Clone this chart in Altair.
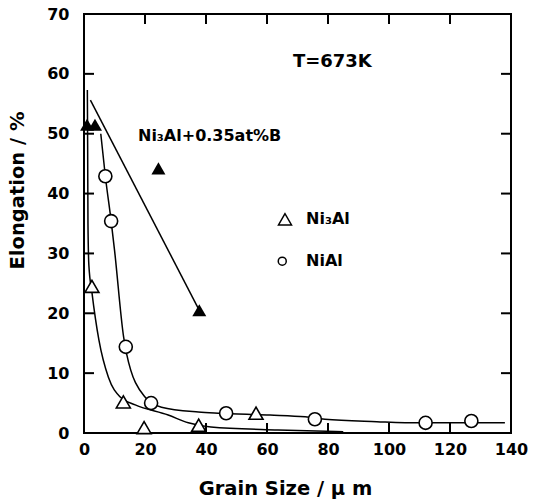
import altair as alt
import pandas as pd

# Ni3Al + 0.35 at% B (filled triangles) and its straight fit
b_grain = [1.0, 3.6, 24.4, 37.8]
b_elong = [51.5, 51.5, 44.2, 20.5]
b_fit_grain = [2.1, 37.8]
b_fit_elong = [55.6, 20.5]

# Ni3Al (open triangles) and its trend curve
ni3al_grain = [2.6, 12.9, 19.7, 37.6, 56.4]
ni3al_elong = [24.5, 5.2, 0.9, 1.3, 3.3]
ni3al_fit_grain = [1.1, 1.2, 1.3, 1.6, 2.6, 4.9, 8.0, 11.9, 16.8, 27.6, 34.2, 41.6, 63.6, 85.0]
ni3al_fit_elong = [57.3, 48.0, 35.0, 28.0, 23.5, 15.5, 9.3, 6.0, 4.7, 3.0, 1.7, 1.0, 0.5, 0.2]

# NiAl (open circles) and its trend curve
nial_grain = [7.0, 8.9, 13.7, 22.0, 46.6, 75.7, 112.0, 127.0]
nial_elong = [42.9, 35.4, 14.4, 5.0, 3.3, 2.3, 1.7, 2.0]
nial_fit_grain = [5.5, 7.0, 8.9, 10.0, 13.0, 13.9, 20.0, 25.4, 37.5, 44.0, 61.0, 72.5, 79.0, 96.0, 110.0, 124.0, 138.0]
nial_fit_elong = [50.0, 42.9, 35.4, 30.6, 16.0, 13.4, 6.0, 4.3, 3.5, 3.3, 3.0, 2.7, 2.3, 1.9, 1.7, 1.7, 1.7]

# axis ticks
x_ticks = [0, 20, 40, 60, 80, 100, 120, 140]
y_ticks = [0, 10, 20, 30, 40, 50, 60, 70]

# annotations (positions in data units)
notes = ["T=673K", "Ni₃Al+0.35at%B", "Ni₃Al", "NiAl"]
note_x = [68.5, 17.7, 72.8, 72.8]
note_y = [62.0, 49.6, 35.7, 28.7]
note_size = [18, 16, 16, 16]

key_shape = ["triangle-up", "circle"]
key_x = [65.9, 65.0]
key_y = [35.7, 28.7]
key_size = [169, 64]

W, H = 427, 419
FONT = "DejaVu Sans"
X_MAX, Y_MAX = 140.0, 70.0
# inward tick length (about 10 px) in data units
TICK_X = 10 * X_MAX / W
TICK_Y = 10 * Y_MAX / H

X = alt.X(
    "grain:Q",
    scale=alt.Scale(domain=[0, X_MAX], nice=False, zero=False),
    axis=alt.Axis(
        values=x_ticks, format="d", title="Grain Size / μ m",
        labelFont=FONT, labelFontSize=16, labelFontWeight="bold", labelColor="black",
        labelPadding=8, labelFlush=False, ticks=False, tickSize=0, domain=False, grid=False,
        titleFont=FONT, titleFontSize=19.5, titleFontWeight="bold", titleColor="black",
        titleX=201, titleY=55, titleBaseline="middle", titleAlign="center",
    ),
)
Y = alt.Y(
    "elong:Q",
    scale=alt.Scale(domain=[0, Y_MAX], nice=False, zero=False),
    axis=alt.Axis(
        values=y_ticks, format="d", title="Elongation / %",
        labelFont=FONT, labelFontSize=16, labelFontWeight="bold", labelColor="black",
        labelPadding=15, labelFlush=False, ticks=False, tickSize=0, domain=False, grid=False,
        titleFont=FONT, titleFontSize=19.5, titleFontWeight="bold", titleColor="black",
        titleX=-67, titleY=176, titleAngle=270, titleBaseline="middle", titleAlign="center",
    ),
)


def frame(xs, ys, **extra):
    d = {"grain": xs, "elong": ys}
    d.update(extra)
    return pd.DataFrame(d)


line_style = dict(color="black", strokeWidth=1.5)

b_fit = alt.Chart(frame(b_fit_grain, b_fit_elong)).mark_line(**line_style).encode(x=X, y=Y)
ni3al_fit = alt.Chart(frame(ni3al_fit_grain, ni3al_fit_elong)).mark_line(
    interpolate="monotone", **line_style).encode(x=X, y=Y)
nial_fit = alt.Chart(frame(nial_fit_grain, nial_fit_elong)).mark_line(
    interpolate="monotone", **line_style).encode(x=X, y=Y)

b_pts = alt.Chart(frame(b_grain, b_elong)).mark_point(
    shape="triangle-up", size=196, filled=True, color="black", opacity=1
).encode(x=X, y=Y)
ni3al_pts = alt.Chart(frame(ni3al_grain, ni3al_elong)).mark_point(
    shape="triangle-up", size=196, filled=False, fill="white", fillOpacity=1,
    stroke="black", strokeWidth=1.6, opacity=1
).encode(x=X, y=Y)
nial_pts = alt.Chart(frame(nial_grain, nial_elong)).mark_point(
    shape="circle", size=170, filled=False, fill="white", fillOpacity=1,
    stroke="black", strokeWidth=1.6, opacity=1
).encode(x=X, y=Y)

key_pts = alt.Chart(frame(key_x, key_y, shape=key_shape, sz=key_size)).mark_point(
    filled=False, fill="white", fillOpacity=1, stroke="black", strokeWidth=1.5, opacity=1
).encode(
    x=X, y=Y,
    shape=alt.Shape("shape:N", scale=None),
    size=alt.Size("sz:Q", scale=None),
)

labels = alt.Chart(frame(note_x, note_y, label=notes, fs=note_size)).mark_text(
    font=FONT, fontWeight="bold", align="left", baseline="middle", color="black"
).encode(
    x=X, y=Y, text="label:N",
    size=alt.Size("fs:Q", scale=None),
)


# inward tick marks on all four sides, each one a two-point segment
def tick_segments(values, side):
    xs, ys, ids = [], [], []
    for v in values:
        v = float(v)
        if side == "bottom":
            seg = [(v, 0.0), (v, TICK_Y)]
        elif side == "top":
            seg = [(v, Y_MAX), (v, Y_MAX - TICK_Y)]
        elif side == "left":
            seg = [(0.0, v), (TICK_X, v)]
        else:
            seg = [(X_MAX, v), (X_MAX - TICK_X, v)]
        for px, py in seg:
            xs.append(px)
            ys.append(py)
            ids.append(f"{side}-{v}")
    return frame(xs, ys, tick=ids)


ticks_df = pd.concat([
    tick_segments(x_ticks[1:-1], "bottom"),
    tick_segments(x_ticks[1:-1], "top"),
    tick_segments(y_ticks[1:-1], "left"),
    tick_segments(y_ticks[1:-1], "right"),
], ignore_index=True)

tick_marks = alt.Chart(ticks_df).mark_line(color="black", strokeWidth=2).encode(
    x=X, y=Y, detail="tick:N")

chart = alt.layer(
    tick_marks,
    b_fit, ni3al_fit, nial_fit,
    b_pts, ni3al_pts, nial_pts,
    key_pts, labels,
).properties(
    width=W, height=H,
    autosize=alt.AutoSizeParams(type="none"),
    padding={"left": 84, "top": 14, "right": 533 - 84 - W, "bottom": 502 - 14 - H},
    background="white",
).configure_view(
    stroke="black", strokeWidth=2,
)

chart.save("out.html", embed_options={"renderer": "svg", "actions": False})
